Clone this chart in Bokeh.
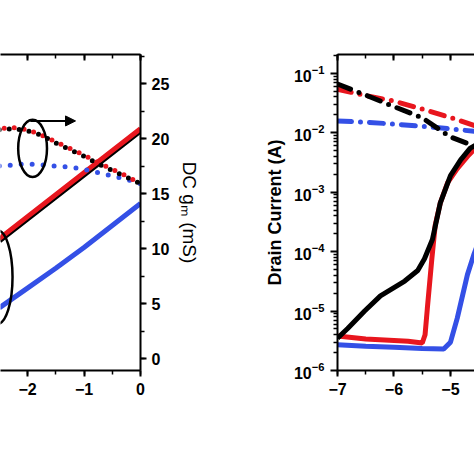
from bokeh.plotting import figure
from bokeh.layouts import row
from bokeh.models import (Range1d, LinearAxis, SingleIntervalTicker, FixedTicker,
                          LogTickFormatter, Label, Arrow, NormalHead)
from bokeh.embed import file_html
from bokeh.resources import INLINE

RED = "#e8161e"
BLUE = "#3450e6"
BLACK = "#000000"
FONT = "Liberation Sans"

# ---------------- left panel (partially visible) ----------------
gm_v = [-2.5, -2.25, -2.0, -1.75, -1.5, -1.25, -1.0, -0.75, -0.5, -0.25, 0.0]
gm_red = [20.9, 21.0, 20.8, 20.3, 19.7, 19.1, 18.5, 17.8, 17.2, 16.6, 15.9]
gm_black = [20.8, 20.9, 20.7, 20.3, 19.6, 19.0, 18.4, 17.7, 17.1, 16.5, 15.9]
gm_blue = [17.5, 17.6, 17.7, 17.6, 17.5, 17.4, 17.2, 16.9, 16.6, 16.3, 15.9]

id_v = [-2.5, -2.0, -1.5, -1.0, -0.5, 0.0]
id_red = [10.9, 12.9, 14.9, 16.9, 18.9, 20.9]
id_black = [10.75, 12.75, 14.75, 16.75, 18.75, 20.75]
id_blue = [4.6, 6.4, 8.2, 10.1, 12.1, 14.1]

# ---------------- right panel: transfer curves (log) ----------------
blk_v = [-7.0, -6.82, -6.52, -6.24, -5.81, -5.58, -5.46, -5.32, -5.18, -5.0, -4.82, -4.65, -4.55]
blk_i = [3.5e-6, 5.1e-6, 1.0e-5, 1.8e-5, 3.2e-5, 4.8e-5, 7.6e-5, 1.6e-4, 6.6e-4, 1.9e-3, 3.5e-3, 5.5e-3, 6.2e-3]

red_v = [-7.0, -6.5, -6.0, -5.75, -5.5, -5.45, -5.41, -5.33, -5.27, -5.18, -5.05, -4.88, -4.68, -4.55]
red_i = [3.8e-6, 3.4e-6, 3.2e-6, 3.1e-6, 2.9e-6, 4.0e-6, 1.1e-5, 7.6e-5, 2.8e-4, 6.6e-4, 1.45e-3, 2.5e-3, 4.2e-3, 5.6e-3]

blu_v = [-7.0, -6.5, -6.0, -5.5, -5.12, -5.0, -4.88, -4.7, -4.59, -4.5]
blu_i = [2.7e-6, 2.55e-6, 2.45e-6, 2.35e-6, 2.3e-6, 3.0e-6, 7.6e-6, 4.1e-5, 8.7e-5, 1.5e-4]

dd_v = [-7.0, -6.5, -6.0, -5.5, -5.0, -4.55]
dd_black = [0.066, 0.043, 0.0275, 0.0178, 0.0085, 0.0058]
dd_red = [0.054, 0.042, 0.034, 0.025, 0.018, 0.013]
dd_blue = [0.0158, 0.0150, 0.0140, 0.0128, 0.0116, 0.0105]

y_ticks = [1e-6, 1e-5, 1e-4, 1e-3, 1e-2, 1e-1]
y_minor = [k * t for t in [1e-7, 1e-6, 1e-5, 1e-4, 1e-3, 1e-2, 1e-1] for k in range(2, 10)]


def style_axis(ax, labels=True):
    ax.axis_line_width = 2
    ax.axis_line_color = BLACK
    ax.major_tick_line_width = 2
    ax.minor_tick_line_width = 1.5
    ax.major_tick_line_color = BLACK
    ax.minor_tick_line_color = BLACK
    ax.major_label_text_font = FONT
    ax.major_label_text_font_style = "bold"
    ax.major_label_text_font_size = "16px"
    ax.major_label_text_color = BLACK if labels else None
    ax.axis_label_text_color = BLACK


# ---- left figure
p1 = figure(width=225, height=474, x_range=Range1d(-2.478, 0), y_range=Range1d(-1.09, 27.64),
            y_axis_location="right", output_backend="svg", toolbar_location=None,
            min_border_left=0, min_border_right=85, min_border_top=54, min_border_bottom=104)
p1.outline_line_color = None
p1.grid.visible = False

xax = p1.xaxis[0]
xax.ticker = SingleIntervalTicker(interval=1, num_minor_ticks=2)
style_axis(xax)
xax.major_tick_out = 6
xax.major_tick_in = 0
xax.minor_tick_out = 4
xax.minor_tick_in = 0
xax.major_label_standoff = 6

yax = p1.yaxis[0]
yax.ticker = SingleIntervalTicker(interval=5, num_minor_ticks=2)
style_axis(yax)
yax.major_tick_out = 6
yax.major_tick_in = 0
yax.minor_tick_out = 4
yax.minor_tick_in = 0
yax.major_label_standoff = 5
yax.axis_label = "DC g\u2098 (mS)"
yax.axis_label_text_font = FONT
yax.axis_label_text_font_style = "normal"
yax.axis_label_text_font_size = "19px"
yax.axis_label_standoff = 7

top1 = LinearAxis(ticker=SingleIntervalTicker(interval=1, num_minor_ticks=2))
style_axis(top1, labels=False)
top1.major_tick_in = 6
top1.major_tick_out = 0
top1.minor_tick_in = 4
top1.minor_tick_out = 0
p1.add_layout(top1, "above")

p1.line(id_v, id_black, color=BLACK, line_width=6)
p1.line(id_v, id_red, color=RED, line_width=5)
p1.line(id_v, id_blue, color=BLUE, line_width=5)
p1.line(gm_v, gm_blue, color=BLUE, line_width=5, line_dash="0 11", line_cap="round")
p1.line(gm_v, gm_black, color=BLACK, line_width=5, line_dash="0 10", line_cap="round")
p1.line(gm_v, gm_red, color=RED, line_width=5, line_dash="0 10", line_dash_offset=5, line_cap="round")

p1.ellipse(x=[-1.91], y=[19.1], width=0.51, height=5.2, fill_color=None,
           line_color=BLACK, line_width=2.5)
p1.ellipse(x=[-2.53], y=[7.4], width=0.53, height=8.5, fill_color=None,
           line_color=BLACK, line_width=2.5)
p1.add_layout(Arrow(end=NormalHead(size=10, fill_color=BLACK, line_color=BLACK),
                    x_start=-1.95, y_start=21.6, x_end=-1.15, y_end=21.6,
                    line_width=2, line_color=BLACK))
p1.add_layout(Label(x=-2.23, y=-5.82, text="Gate Voltage (V)", text_align="right",
                    text_baseline="middle", text_font=FONT, text_font_style="bold",
                    text_font_size="17px", text_color=BLACK))

# ---- right figure
p2 = figure(width=249, height=474, x_range=Range1d(-7, -4.575), y_range=Range1d(1e-6, 10 ** -0.684),
            y_axis_type="log", output_backend="svg", toolbar_location=None,
            min_border_left=112, min_border_right=0, min_border_top=50, min_border_bottom=104)
p2.outline_line_color = None
p2.grid.visible = False

xax2 = p2.xaxis[0]
xax2.ticker = SingleIntervalTicker(interval=1, num_minor_ticks=2)
style_axis(xax2)
xax2.major_tick_out = 6
xax2.major_tick_in = 0
xax2.minor_tick_out = 4
xax2.minor_tick_in = 0
xax2.major_label_standoff = 6

yax2 = p2.yaxis[0]
yax2.ticker = FixedTicker(ticks=y_ticks, minor_ticks=y_minor)
style_axis(yax2)
yax2.major_tick_out = 7
yax2.major_tick_in = 0
yax2.minor_tick_out = 4
yax2.minor_tick_in = 0
yax2.major_label_standoff = 6
yax2.formatter = LogTickFormatter()
yax2.axis_label = "Drain Current (A)"
yax2.axis_label_text_font = FONT
yax2.axis_label_text_font_style = "bold"
yax2.axis_label_text_font_size = "18px"
yax2.axis_label_standoff = 6

top2 = LinearAxis(ticker=SingleIntervalTicker(interval=1, num_minor_ticks=2))
style_axis(top2, labels=False)
top2.major_tick_in = 6
top2.major_tick_out = 0
top2.minor_tick_in = 4
top2.minor_tick_out = 0
p2.add_layout(top2, "above")

p2.line(dd_v, dd_blue, color=BLUE, line_width=5, line_dash="14 9 0 9", line_cap="round")
p2.line(dd_v, dd_red, color=RED, line_width=5, line_dash="14 9 0 9", line_cap="round")
p2.line(dd_v, dd_black, color=BLACK, line_width=5, line_dash="14 9 0 9", line_cap="round")
p2.line(blu_v, blu_i, color=BLUE, line_width=5)
p2.line(red_v, red_i, color=RED, line_width=5)
p2.line(blk_v, blk_i, color=BLACK, line_width=5)

p2.add_layout(Label(x=-4.735, y=10 ** -6.864, text="Gate Voltage (V)", text_align="left",
                    text_baseline="middle", text_font=FONT, text_font_style="bold",
                    text_font_size="17px", text_color=BLACK))

p = row(p1, p2)
open("out.html", "w").write(file_html(p, INLINE))
